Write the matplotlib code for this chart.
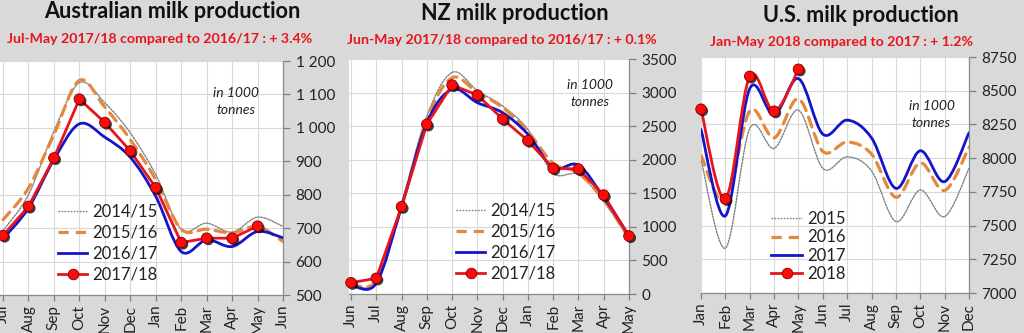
import matplotlib
matplotlib.use("Agg")
import matplotlib.pyplot as plt
from matplotlib.path import Path
from matplotlib.patches import PathPatch
from matplotlib.lines import Line2D
import matplotlib.patheffects as pe
from matplotlib.ticker import FuncFormatter

plt.rcParams['font.family'] = ['Lato', 'DejaVu Sans']

# ---------------- data ----------------
au_months = ['Jul', 'Aug', 'Sep', 'Oct', 'Nov', 'Dec', 'Jan', 'Feb', 'Mar', 'Apr', 'May', 'Jun']
au_1415 = [692, 800, 990, 1135, 1075, 985, 860, 697, 715, 688, 733, 705]
au_1516 = [725, 820, 980, 1142, 1062, 965, 845, 697, 697, 686, 705, 660]
au_1617 = [668, 760, 905, 1012, 972, 912, 795, 630, 665, 645, 690, 671]
au_1718 = [678, 765, 910, 1086, 1016, 931, 821, 657, 670, 670, 706]
au_labels = ['2014/15', '2015/16', '2016/17', '2017/18']

nz_months = ['Jun', 'Jul', 'Aug', 'Sep', 'Oct', 'Nov', 'Dec', 'Jan', 'Feb', 'Mar', 'Apr', 'May']
nz_1415 = [150, 185, 1350, 2650, 3300, 3030, 2800, 2450, 1800, 1780, 1380, 820]
nz_1516 = [150, 200, 1300, 2600, 3220, 3000, 2780, 2420, 1950, 1800, 1400, 830]
nz_1617 = [134, 160, 1300, 2550, 3048, 2850, 2700, 2380, 1880, 1920, 1440, 870]
nz_1718 = [168, 234, 1300, 2527, 3113, 2964, 2607, 2284, 1872, 1862, 1474, 864]
nz_labels = ['2014/15', '2015/16', '2016/17', '2017/18']

us_months = ['Jan', 'Feb', 'Mar', 'Apr', 'May', 'Jun', 'Jul', 'Aug', 'Sep', 'Oct', 'Nov', 'Dec']
us_2015 = [7990, 7333, 8220, 8072, 8356, 7924, 8010, 7905, 7530, 7764, 7567, 7924]
us_2016 = [8020, 7680, 8350, 8150, 8440, 8050, 8120, 8030, 7710, 7965, 7760, 8080]
us_2017 = [8213, 7572, 8516, 8319, 8590, 8178, 8282, 8150, 7776, 8055, 7826, 8188]
us_2018 = [8363, 7698, 8607, 8348, 8659]
us_labels = ['2015', '2016', '2017', '2018']

# ---------------- styles ----------------
BG = '#d9d9d9'
GRID = '#d9d9d9'
C_GRAY = '#7f7f7f'
C_ORANGE = '#e3893f'
C_BLUE = '#1414c8'
C_RED = '#e8141b'
TXT = '#222222'


def smooth_path(y):
    x = list(range(len(y)))
    pts = list(zip(x, y))
    verts = [pts[0]]
    codes = [Path.MOVETO]
    n = len(pts)
    for i in range(n - 1):
        p0 = pts[i - 1] if i > 0 else pts[i]
        p1 = pts[i]
        p2 = pts[i + 1]
        p3 = pts[i + 2] if i + 2 < n else pts[i + 1]
        c1 = (p1[0] + (p2[0] - p0[0]) / 6.0, p1[1] + (p2[1] - p0[1]) / 6.0)
        c2 = (p2[0] - (p3[0] - p1[0]) / 6.0, p2[1] - (p3[1] - p1[1]) / 6.0)
        verts += [c1, c2, p2]
        codes += [Path.CURVE4] * 3
    return Path(verts, codes)


def add_smooth(ax, y, **kw):
    patch = PathPatch(smooth_path(y), fill=False, transform=ax.transData,
                      capstyle='round', joinstyle='round', **kw)
    ax.add_patch(patch)


STY_GRAY = dict(edgecolor=C_GRAY, lw=1.0, linestyle=(0, (1.2, 1.0)))
STY_ORANGE = dict(edgecolor=C_ORANGE, lw=2.3, linestyle=(0, (3.2, 2.2)))
STY_BLUE = dict(edgecolor=C_BLUE, lw=2.0, linestyle='-')
STY_RED = dict(edgecolor=C_RED, lw=2.0, linestyle='-')

shadow = [pe.SimplePatchShadow(offset=(1.3, -1.3), shadow_rgbFace='#000000', alpha=0.75), pe.Normal()]


def draw_markers(ax, y):
    ax.plot(range(len(y)), y, linestyle='none', marker='o', markersize=7.6,
            markerfacecolor='#ff0a0a', markeredgecolor='#7a0000', markeredgewidth=0.6,
            path_effects=shadow, zorder=6, clip_on=False)


def legend_handles():
    return [
        Line2D([], [], color=C_GRAY, lw=1.0, linestyle=(0, (1.2, 1.0))),
        Line2D([], [], color=C_ORANGE, lw=2.3, linestyle=(0, (3.2, 2.2))),
        Line2D([], [], color=C_BLUE, lw=2.0),
        Line2D([], [], color=C_RED, lw=2.0, marker='o', markersize=7.6,
               markerfacecolor='#ff0a0a', markeredgecolor='#7a0000', markeredgewidth=0.6),
    ]


def style_axis(ax, months, ylim, yticks, fmt, xlim):
    ax.set_facecolor('white')
    ax.set_xlim(*xlim)
    ax.set_ylim(*ylim)
    ax.set_xticks(range(len(months)))
    ax.set_xticklabels(months, rotation=90, fontsize=11, color=TXT)
    ax.set_yticks(yticks)
    ax.yaxis.set_major_formatter(FuncFormatter(fmt))
    ax.yaxis.tick_right()
    ax.tick_params(axis='y', direction='out', length=5, width=0.9, colors='#7f7f7f',
                   labelcolor=TXT, labelsize=11, pad=4)
    ax.tick_params(axis='x', direction='out', length=4, width=0.9, colors='#7f7f7f',
                   labelcolor=TXT, pad=3)
    for s in ['left', 'top']:
        ax.spines[s].set_visible(False)
    ax.spines['right'].set_color('#8c8c8c')
    ax.spines['bottom'].set_color('#8c8c8c')
    ax.spines['right'].set_linewidth(0.9)
    ax.spines['bottom'].set_linewidth(0.9)
    ax.grid(True, color=GRID, lw=0.8)
    ax.set_axisbelow(True)


def space_fmt(v, pos):
    v = int(round(v))
    if v >= 1000:
        return f"{v // 1000} {v % 1000:03d}"
    return str(v)


def plain_fmt(v, pos):
    return str(int(round(v)))


LEG_FS = 12
fig = plt.figure(figsize=(10.24, 3.33), dpi=100, facecolor=BG)

# ---------- Panel 1: Australia ----------
ax1 = fig.add_axes([0.0, 0.1141, 0.2764, 0.7027])
style_axis(ax1, au_months, (500, 1200), list(range(500, 1201, 100)), space_fmt, (-0.118, 11))
add_smooth(ax1, au_1415, **STY_GRAY, zorder=3)
add_smooth(ax1, au_1516, **STY_ORANGE, zorder=3)
add_smooth(ax1, au_1617, **STY_BLUE, zorder=4)
ax1.plot(range(len(au_1718)), au_1718, color=C_RED, lw=2.0, zorder=5, solid_joinstyle='round')
draw_markers(ax1, au_1718)
ax1.legend(legend_handles(), au_labels, loc='center left', bbox_to_anchor=(0.205, 0.222),
           frameon=False, fontsize=LEG_FS, handlelength=1.75, handletextpad=0.3,
           labelspacing=0.3, borderpad=0, borderaxespad=0, labelcolor=TXT)
ax1.text(0.835, 0.827, 'in 1000\ntonnes', transform=ax1.transAxes, ha='center', va='center',
         fontsize=10, style='italic', color=TXT, linespacing=1.5)

# ---------- Panel 2: NZ ----------
ax2 = fig.add_axes([0.3408, 0.1171, 0.2734, 0.7057])
style_axis(ax2, nz_months, (0, 3500), list(range(0, 3501, 500)), plain_fmt, (-0.079, 11))
add_smooth(ax2, nz_1415, **STY_GRAY, zorder=3)
add_smooth(ax2, nz_1516, **STY_ORANGE, zorder=3)
add_smooth(ax2, nz_1617, **STY_BLUE, zorder=4)
ax2.plot(range(len(nz_1718)), nz_1718, color=C_RED, lw=2.0, zorder=5, solid_joinstyle='round')
draw_markers(ax2, nz_1718)
ax2.legend(legend_handles(), nz_labels, loc='center left', bbox_to_anchor=(0.382, 0.221),
           frameon=False, fontsize=LEG_FS, handlelength=1.75, handletextpad=0.3,
           labelspacing=0.3, borderpad=0, borderaxespad=0, labelcolor=TXT)
ax2.text(0.86, 0.853, 'in 1000\ntonnes', transform=ax2.transAxes, ha='center', va='center',
         fontsize=10, style='italic', color=TXT, linespacing=1.5)

# ---------- Panel 3: US ----------
ax3 = fig.add_axes([0.6846, 0.1201, 0.2617, 0.7087])
style_axis(ax3, us_months, (7000, 8750), list(range(7000, 8751, 250)), plain_fmt, (0, 11))
add_smooth(ax3, us_2015, **STY_GRAY, zorder=3)
add_smooth(ax3, us_2016, **STY_ORANGE, zorder=3)
add_smooth(ax3, us_2017, **STY_BLUE, zorder=4)
add_smooth(ax3, us_2018, **STY_RED, zorder=5)
draw_markers(ax3, us_2018)
ax3.legend(legend_handles(), us_labels, loc='center left', bbox_to_anchor=(0.262, 0.197),
           frameon=False, fontsize=LEG_FS, handlelength=1.85, handletextpad=0.3,
           labelspacing=0.14, borderpad=0, borderaxespad=0, labelcolor=TXT)
ax3.text(0.86, 0.758, 'in 1000\ntonnes', transform=ax3.transAxes, ha='center', va='center',
         fontsize=10, style='italic', color=TXT, linespacing=1.5)

# ---------- titles ----------
title_kw = dict(ha='center', va='center', fontsize=15.6, fontweight='bold', color='#111111')
sub_kw = dict(ha='center', va='center', fontsize=10.2, fontweight='bold', color=C_RED)
fig.text(172 / 1024, 1 - 12 / 333, 'Australian milk production', **title_kw)
fig.text(160 / 1024, 1 - 39 / 333, 'Jul-May 2017/18 compared to 2016/17 : + 3.4%', **sub_kw)
fig.text(515 / 1024, 1 - 14 / 333, 'NZ milk production', **title_kw)
fig.text(502 / 1024, 1 - 40 / 333, 'Jun-May 2017/18 compared to 2016/17 : + 0.1%', **sub_kw)
fig.text(861 / 1024, 1 - 15 / 333, 'U.S. milk production', **title_kw)
fig.text(842 / 1024, 1 - 42 / 333, 'Jan-May 2018 compared to 2017 : + 1.2%', **sub_kw)

fig.savefig('out.png', dpi=100, facecolor=BG)
